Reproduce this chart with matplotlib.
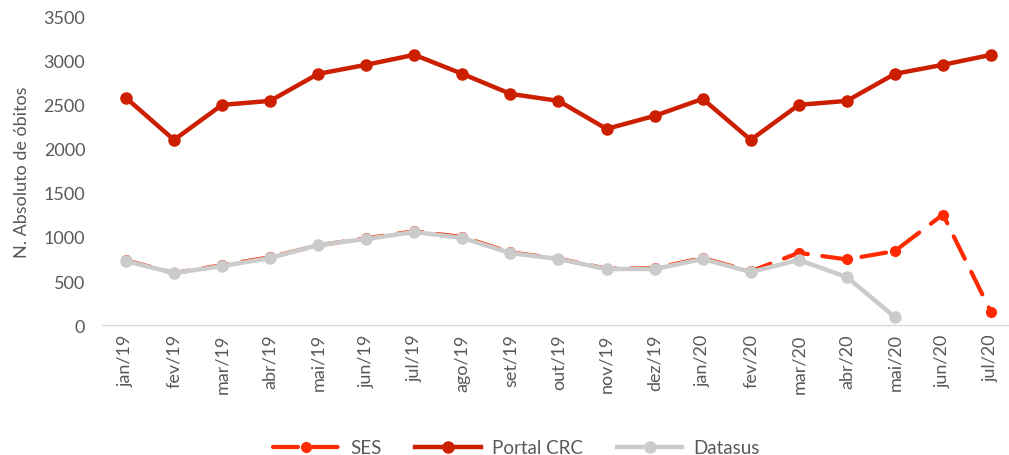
import numpy as np
import matplotlib.pyplot as plt

plt.rcParams['font.family'] = ['Lato', 'DejaVu Sans']

months = ["jan/19", "fev/19", "mar/19", "abr/19", "mai/19", "jun/19", "jul/19",
          "ago/19", "set/19", "out/19", "nov/19", "dez/19", "jan/20", "fev/20",
          "mar/20", "abr/20", "mai/20", "jun/20", "jul/20"]
ses = [735, 590, 680, 770, 905, 985, 1065, 1000, 825, 755, 640, 645, 760, 610,
       820, 745, 840, 1255, 148]
portal_crc = [2580, 2102, 2500, 2545, 2852, 2955, 3068, 2852, 2625, 2545, 2227,
              2375, 2568, 2102, 2500, 2545, 2852, 2955, 3068]
datasus = [727, 590, 670, 761, 909, 977, 1057, 989, 818, 750, 636, 636, 750, 602,
           739, 545, 90]

fig = plt.figure(figsize=(10.09, 4.56), dpi=100)
ax = fig.add_axes([0.101, 0.285, 0.905, 0.676])

x = np.arange(len(months))
ax.plot(x, ses, color="#FF2A00", lw=3, marker="o", ms=7,
        dashes=(6, 3.5), dash_capstyle="round", label="SES")
ax.plot(x, portal_crc, color="#CC1F00", lw=3.2, marker="o", ms=8,
        label="Portal CRC")
ax.plot(x[:len(datasus)], datasus, color="#CBCBCB", lw=3.2, marker="o", ms=8,
        label="Datasus")

ax.set_xlim(-0.5, len(months) - 0.5)
ax.set_ylim(0, 3500)
ax.set_yticks(np.arange(0, 3501, 500))
ax.set_xticks(x)
ax.set_xticklabels(months, rotation=90)
ax.tick_params(axis="both", length=0, labelsize=13, colors="#595959")
ax.tick_params(axis="y", pad=12)
ax.tick_params(axis="x", pad=6)
ax.set_ylabel("N. Absoluto de óbitos", fontsize=13, color="#595959", labelpad=10)

for s in ["top", "right", "left"]:
    ax.spines[s].set_visible(False)
ax.spines["bottom"].set_color("#D9D9D9")
ax.spines["bottom"].set_linewidth(1)

leg = fig.legend(loc="lower center", bbox_to_anchor=(0.512, -0.04), ncol=3,
                 frameon=False, fontsize=13.5, handlelength=3.5,
                 columnspacing=1.8, handletextpad=0.6)
for t in leg.get_texts():
    t.set_color("#595959")

fig.savefig("out.png", dpi=100)
